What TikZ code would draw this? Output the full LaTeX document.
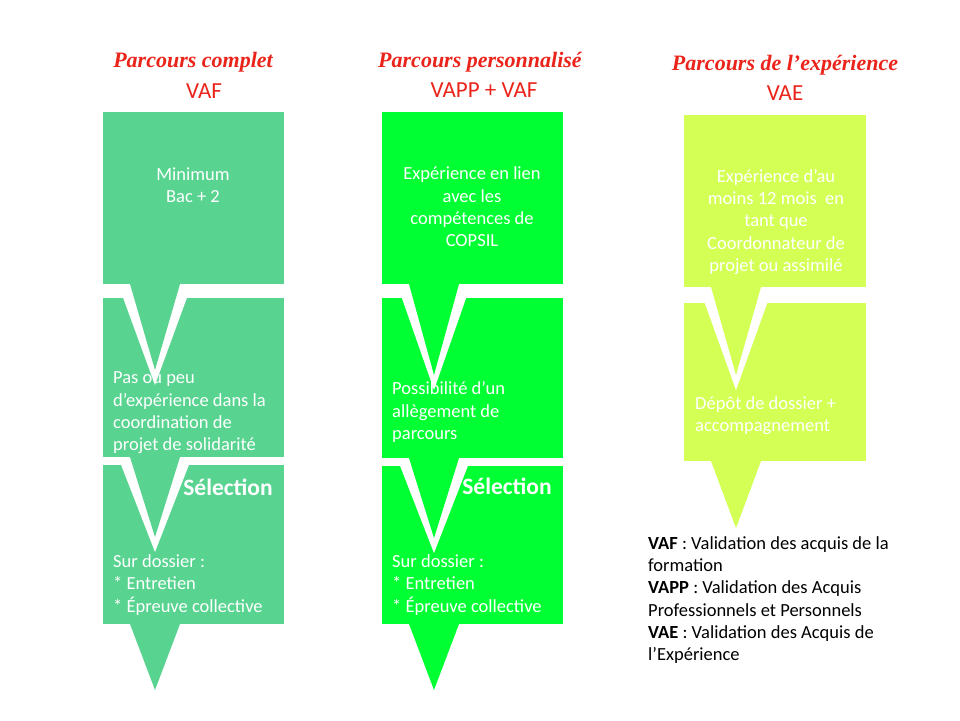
\documentclass[tikz,border=0pt]{standalone}
\usepackage{fontspec}
\setmainfont{Carlito}
\newfontfamily\titrefont{Liberation Serif}
\usepackage{tikz}
\definecolor{vertA}{RGB}{88,212,144}
\definecolor{vertB}{RGB}{0,255,51}
\definecolor{vertC}{RGB}{212,255,84}
\definecolor{rougeT}{RGB}{234,36,26}
\tikzset{
    titre/.style={text=rougeT,inner sep=0pt,font=\titrefont\bfseries\itshape\fontsize{22}{26}\selectfont},
    sigle/.style={text=rougeT,inner sep=0pt,font=\fontsize{23}{27}\selectfont},
    texte/.style={text=white,inner sep=0pt,font=\fontsize{18.5}{22.3}\selectfont},
    selec/.style={text=white,inner sep=0pt,font=\bfseries\fontsize{23.5}{26}\selectfont},
    legende/.style={text=black,inner sep=0pt,align=left,font=\fontsize{18.5}{22.2}\selectfont}
}
\begin{document}
\begin{tikzpicture}[x=1pt,y=-1pt]
            \useasboundingbox (0,0) rectangle (960,720);
            \fill[vertA] (103,112) rectangle (284,284);
            \fill[vertA] (103,298) rectangle (284,457);
            \fill[vertA] (103,465) rectangle (284,624);
            \fill[vertB] (382,112) rectangle (563,284);
            \fill[vertB] (382,298) rectangle (563,458);
            \fill[vertB] (382,466) rectangle (563,624);
            \fill[vertC] (684,115) rectangle (866,287);
            \fill[vertC] (684,303) rectangle (866,461);
            \foreach \x/\y/\h/\c in {103/284/86/vertA,103/457/80/vertA,103/624/66/vertA,
                382/284/91/vertB,382/458/80/vertB,382/624/66/vertB,
                684/287/88/vertC,684/461/67/vertC}{
                \fill[white] (\x+15,\y) -- (\x+52,\y+\h+15) -- (\x+89,\y) -- cycle;
                \fill[\c] (\x+27,\y) -- (\x+52,\y+\h) -- (\x+77,\y) -- cycle;
            }
            \node[titre] (titre1) at (193,62) {Parcours complet};
            \node[sigle] (sigle1) at (204,91) {VAF};
            \node[titre] (titre2) at (480,62) {Parcours personnalisé};
            \node[sigle] (sigle2) at (484,90) {VAPP + VAF};
            \node[titre] (titre3) at (785,65) {Parcours de l’expérience};
            \node[sigle] (sigle3) at (785,93) {VAE};
            \node[texte,align=center] (bac) at (193,185) {Minimum\\Bac + 2};
            \node[texte,align=center] (copsil) at (472,207) {Expérience en lien\\avec les\\compétences de\\COPSIL};
            \node[texte,align=center] (douze) at (776,222) {Expérience d’au\\moins 12 mois~ en\\tant que\\Coordonnateur de\\projet ou assimilé};
            \node[texte,align=left,anchor=west] (peu) at (113,413) {Pas ou peu\\d’expérience dans la\\coordination de\\projet de solidarité};
            \node[texte,align=left,anchor=west] (allege) at (392,412) {Possibilité d’un\\allègement de\\parcours};
            \node[texte,align=left,anchor=west] (depot) at (695,416) {Dépôt de dossier +\\accompagnement};
            \node[selec] (selec1) at (228,487) {Sélection};
            \node[selec] (selec2) at (507,486) {Sélection};
            \node[texte,align=left,anchor=west] (dossier1) at (113,585) {Sur dossier :\\* Entretien\\* Épreuve collective};
            \node[texte,align=left,anchor=west] (dossier2) at (392,585) {Sur dossier :\\* Entretien\\* Épreuve collective};
            \node[legende,anchor=west] (sigles) at (648,600) {\textbf{VAF} : Validation des acquis de la\\formation\\\textbf{VAPP} : Validation des Acquis\\Professionnels et Personnels\\\textbf{VAE} : Validation des Acquis de\\l’Expérience};
        \end{tikzpicture}
\end{document}
